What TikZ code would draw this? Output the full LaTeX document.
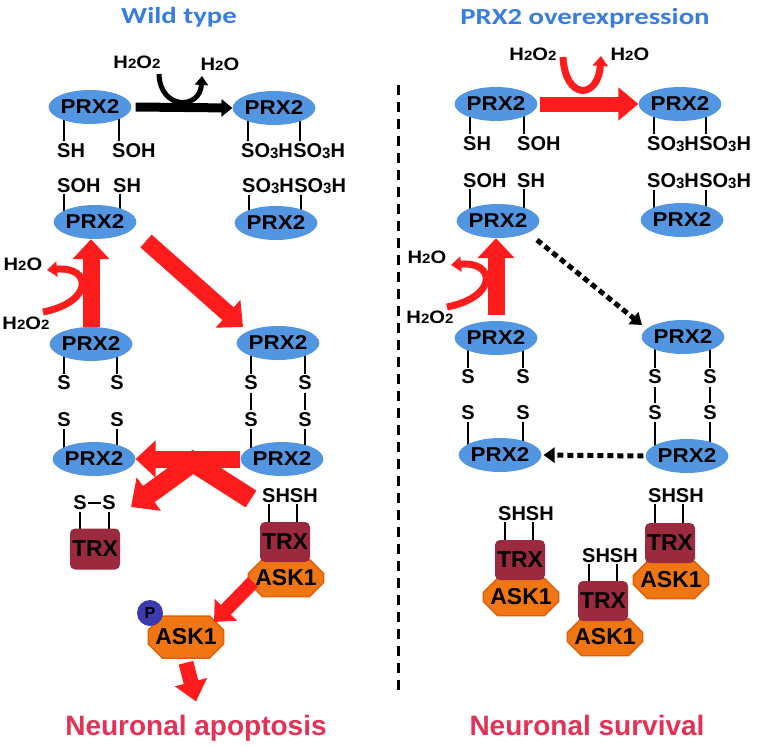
\documentclass[tikz,border=0pt]{standalone}
\usepackage{fontspec}
\usetikzlibrary{arrows.meta,shapes.geometric,shapes.misc,backgrounds,calc}
\newfontfamily\labfont{Liberation Sans}
\newfontfamily\prxfont{Liberation Sans}[FakeStretch=1.12]
\newfontfamily\titfont{Carlito}[FakeStretch=1.25]
\newcommand\dn[1]{\raisebox{-0.1ex}{\scalebox{0.75}{#1}}}
\definecolor{prxblue}{RGB}{82,150,226}
\definecolor{titblue}{RGB}{58,125,225}
\definecolor{trxred}{RGB}{155,42,62}
\definecolor{askor}{RGB}{240,118,20}
\definecolor{askdark}{RGB}{225,95,10}
\definecolor{pblue}{RGB}{60,58,175}
\definecolor{arrred}{RGB}{255,28,28}
\definecolor{outred}{RGB}{226,50,85}
\tikzset{
  prx/.style={ellipse, fill=prxblue, minimum width=74pt, minimum height=34pt, inner sep=0pt,
    font=\prxfont\bfseries\fontsize{20}{20}\selectfont},
  lbl/.style={inner sep=0pt, font=\labfont\bfseries\fontsize{20}{20}\selectfont},
  mol/.style={inner sep=0pt, font=\prxfont\bfseries\fontsize{18}{18}\selectfont},
  trxbox/.style={rectangle, rounded corners=5pt, fill=trxred, minimum width=50pt, minimum height=41pt,
    inner sep=0pt, font=\labfont\bfseries\fontsize{23}{23}\selectfont},
  askbox/.style={chamfered rectangle, chamfered rectangle xsep=7pt, chamfered rectangle ysep=7pt,
    fill=askor, draw=askdark, line width=1.5pt, minimum width=68pt, minimum height=37pt,
    inner sep=0pt, font=\labfont\bfseries\fontsize{23}{23}\selectfont},
  bond/.style={line width=2.2pt},
  titletext/.style={inner sep=0pt, text=titblue, font=\titfont\bfseries\fontsize{23}{23}\selectfont},
  outtext/.style={inner sep=0pt, text=outred, font=\labfont\bfseries\fontsize{28}{28}\selectfont},
  redarr/.style={draw=arrred, line width=17pt, -{Triangle[width=36pt,length=20pt]}},
  blackarr/.style={draw=black, line width=9pt, -{Triangle[width=17pt,length=11pt]}},
  dotarr/.style={draw=black, line width=5pt, dash pattern=on 6pt off 4pt, -{Triangle[width=15pt,length=11pt]}},
  curvred/.style={draw=arrred, line width=7pt, -{Triangle[width=15pt,length=10pt]}},
  curvblack/.style={draw=black, line width=5pt, -{Triangle[width=13pt,length=9pt]}},
}
\begin{document}
\begin{tikzpicture}[x=1pt,y=-1pt]
\useasboundingbox (0,0) rectangle (761,747);
\begin{scope}[on background layer]
\fill[white] (0,0) rectangle (761,747);
\end{scope}

% titles
\node[titletext, anchor=base] (tw) at (179,23) {Wild type};
\node[titletext, anchor=base] (to) at (585,24) {PRX2 overexpression};

% divider
\coordinate (dv1) at (398,85);
\coordinate (dv2) at (398,693);
\draw[line width=3pt, dash pattern=on 10pt off 7pt] (dv1) -- (dv2);

% ================= LEFT PANEL =================
\node[mol, anchor=base] (hA) at (137,68) {H\dn{2}O\dn{2}};
\node[mol, anchor=base] (wA) at (220,70) {H\dn{2}O};
\node[prx] (pA1) at (90,107) {PRX2};
\node[prx] (pA2) at (274,108) {PRX2};
\node[lbl, anchor=base west] (lA1) at (57,157) {SH};
\node[lbl, anchor=base west] (lA2) at (112,157) {SOH};
\node[lbl, anchor=base west] (lA3) at (241,157) {SO\dn{3}H};
\node[lbl, anchor=base west] (lA4) at (lA3.base east) {SO\dn{3}H};
\node[lbl, anchor=base west] (lB1) at (57,192) {SOH};
\node[lbl, anchor=base west] (lB2) at (113,192) {SH};
\node[lbl, anchor=base west] (lB3) at (242,192) {SO\dn{3}H};
\node[lbl, anchor=base west] (lB4) at (lB3.base east) {SO\dn{3}H};
\node[prx] (pB1) at (95,222) {PRX2};
\node[prx] (pB2) at (276,223) {PRX2};

\node[mol, anchor=base] (wL) at (23,270) {H\dn{2}O};
\node[mol, anchor=base] (hL) at (26,329) {H\dn{2}O\dn{2}};

\node[prx] (pC1) at (91,344) {PRX2};
\node[prx] (pC2) at (278,343) {PRX2};
\node[lbl] (sC1) at (64,383) {S};
\node[lbl] (sC2) at (117,383) {S};
\node[lbl] (sC3) at (251,383) {S};
\node[lbl] (sC4) at (305,383) {S};
\node[lbl] (sD1) at (64,420) {S};
\node[lbl] (sD2) at (117,420) {S};
\node[lbl] (sD3) at (251,420) {S};
\node[lbl] (sD4) at (305,420) {S};
\node[prx] (pD1) at (94,459) {PRX2};
\node[prx] (pD2) at (282,459) {PRX2};

\node[lbl] (ss1) at (80,503) {S};
\node[lbl] (ss2) at (109,503) {S};
\node[trxbox] (t1) at (95,549) {TRX};

\node[askbox] (aR) at (286,578) {ASK1};
\node[trxbox, minimum height=40pt] (tR) at (285,542) {TRX};
\node[lbl, anchor=base west] (shR) at (262,502) {SHSH};

\node[askbox, minimum height=42pt] (aP) at (186,637) {ASK1};
\node[circle, fill=pblue, minimum size=26pt, inner sep=0pt,
      font=\labfont\bfseries\fontsize{16}{16}\selectfont] (ph) at (150,613) {P};
\node[outtext, anchor=base] (outA) at (196,735) {Neuronal apoptosis};

% ================= RIGHT PANEL =================
\node[mol, anchor=base] (hB) at (533,60) {H\dn{2}O\dn{2}};
\node[mol, anchor=base] (wB) at (630,60) {H\dn{2}O};
\node[prx] (qA1) at (496,104) {PRX2};
\node[prx] (qA2) at (680,104) {PRX2};
\node[lbl, anchor=base west] (mA1) at (463,150) {SH};
\node[lbl, anchor=base west] (mA2) at (517,150) {SOH};
\node[lbl, anchor=base west] (mA3) at (647,150) {SO\dn{3}H};
\node[lbl, anchor=base west] (mA4) at (mA3.base east) {SO\dn{3}H};
\node[lbl, anchor=base west] (mB1) at (463,187) {SOH};
\node[lbl, anchor=base west] (mB2) at (517,187) {SH};
\node[lbl, anchor=base west] (mB3) at (647,187) {SO\dn{3}H};
\node[lbl, anchor=base west] (mB4) at (mB3.base east) {SO\dn{3}H};
\node[prx] (qB1) at (498,221) {PRX2};
\node[prx] (qB2) at (682,220) {PRX2};

\node[mol, anchor=base] (wC) at (427,263) {H\dn{2}O};
\node[mol, anchor=base] (hC) at (430,323) {H\dn{2}O\dn{2}};

\node[prx] (qC1) at (496,338) {PRX2};
\node[prx] (qC2) at (683,337) {PRX2};
\node[lbl] (uC1) at (468,377) {S};
\node[lbl] (uC2) at (523,377) {S};
\node[lbl] (uC3) at (655,377) {S};
\node[lbl] (uC4) at (710,377) {S};
\node[lbl] (uD1) at (468,413) {S};
\node[lbl] (uD2) at (523,413) {S};
\node[lbl] (uD3) at (655,413) {S};
\node[lbl] (uD4) at (710,413) {S};
\node[prx] (qD1) at (500,455) {PRX2};
\node[prx] (qD2) at (687,456) {PRX2};

\node[askbox] (a1) at (521,597) {ASK1};
\node[trxbox, minimum height=40pt] (t1r) at (520,560) {TRX};
\node[lbl, anchor=base west] (sh1) at (498,520) {SHSH};
\node[askbox] (a2) at (605,637) {ASK1};
\node[trxbox, minimum height=40pt] (t2r) at (603,601) {TRX};
\node[lbl, anchor=base west] (sh2) at (582,562) {SHSH};
\node[askbox] (a3) at (671,580) {ASK1};
\node[trxbox, minimum height=40pt] (t3r) at (670,543) {TRX};
\node[lbl, anchor=base west] (sh3) at (648,502) {SHSH};

\node[outtext, anchor=base] (outB) at (587,735) {Neuronal survival};

% ================= BONDS (behind) =================
\begin{scope}[on background layer]
  \foreach \l/\p in {lA1/pA1,lA2/pA1,lA3/pA2,lA4/pA2,mA1/qA1,mA2/qA1,mA3/qA2,mA4/qA2}{
    \draw[bond] ([xshift=7pt,yshift=2pt]\l.north west) -- ([xshift=7pt]\l.north west |- \p.center);}
  \foreach \l/\p in {lB1/pB1,lB2/pB1,lB3/pB2,lB4/pB2,mB1/qB1,mB2/qB1,mB3/qB2,mB4/qB2}{
    \draw[bond] ([xshift=7pt,yshift=-2pt]\l.south west) -- ([xshift=7pt]\l.south west |- \p.center);}
  \foreach \s/\p in {sC1/pC1,sC2/pC1,sC3/pC2,sC4/pC2,uC1/qC1,uC2/qC1,uC3/qC2,uC4/qC2}{
    \draw[bond] (\s.north |- \p.center) -- ([yshift=2pt]\s.north);}
  \foreach \s/\p in {sD1/pD1,sD2/pD1,sD3/pD2,sD4/pD2,uD1/qD1,uD2/qD1,uD3/qD2,uD4/qD2}{
    \draw[bond] ([yshift=-2pt]\s.south) -- (\s.south |- \p.center);}
  \foreach \a/\b in {sC3/sD3,sC4/sD4,uC3/uD3,uC4/uD4}{
    \draw[bond] ([yshift=-3pt]\a.south) -- ([yshift=3pt]\b.north);}
  \foreach \s in {ss1,ss2}{
    \draw[bond] ([yshift=-2pt]\s.south) -- (\s.south |- t1.center);}
  \foreach \h/\t in {shR/tR,sh1/t1r,sh2/t2r,sh3/t3r}{
    \draw[bond] ([xshift=7pt,yshift=-2pt]\h.south west) -- ([xshift=7pt]\h.south west |- \t.center);
    \draw[bond] ([xshift=35pt,yshift=-2pt]\h.south west) -- ([xshift=35pt]\h.south west |- \t.center);}
\end{scope}
\draw[line width=2pt] ([xshift=1.5pt]ss1.east) -- ([xshift=-1.5pt]ss2.west);

% ================= ARROWS LEFT =================
\draw[blackarr] ([xshift=4pt]pA1.east) -- (pA2.west);
\coordinate (ua1) at (159,74);
\coordinate (ua2) at (202,76);
\draw[curvblack] (ua1) .. controls (160,110) and (200,110) .. (ua2);

\draw[redarr] (pC1.north) -- (pC1.north |- pB1.south);
\coordinate (ca1) at (43,312);
\coordinate (ca2) at (47,270);
\draw[curvred] (ca1) .. controls (94,302) and (92,266) .. (ca2);

\coordinate (da1) at (146,241);
\coordinate (da2) at (243,327);
\draw[redarr] (da1) -- (da2);

\draw[redarr] (pD2.west) -- (pD1.east);

\coordinate (xa1) at (251,499);
\coordinate (xa2) at (193,462);
\coordinate (xa3) at (131,507);
\draw[redarr, line width=20pt, line join=miter, -{Triangle[width=40pt,length=22pt]}] (xa1) -- (xa2) -- (xa3);

\coordinate (ka1) at (253,582);
\coordinate (ka2) at (214,622);
\draw[redarr, line width=14pt, -{Triangle[width=30pt,length=17pt]}] (ka1) -- (ka2);

\draw[redarr, line width=15pt, -{Triangle[width=32pt,length=20pt]}] ([yshift=-4pt]aP.south) -- ([yshift=13pt]outA.north);

% ================= ARROWS RIGHT =================
\draw[redarr, line width=15pt, -{Triangle[width=32pt,length=20pt]}] ([xshift=2pt]qA1.east) -- (qA2.west);
\coordinate (ub1) at (563,57);
\coordinate (ub2) at (601,56);
\draw[curvred] (ub1) .. controls (565,100) and (598,100) .. (ub2);

\draw[redarr] ([yshift=6pt]qC1.north) -- (qC1.north |- qB1.south);
\coordinate (cb1) at (447,307);
\coordinate (cb2) at (451,265);
\draw[curvred] (cb1) .. controls (498,297) and (496,261) .. (cb2);

\coordinate (db1) at (537,240);
\coordinate (db2) at (642,325);
\draw[dotarr] (db1) -- (db2);
\draw[dotarr] ([xshift=-2pt]qD2.west) -- ([xshift=2pt]qD1.east);
\end{tikzpicture}
\end{document}
